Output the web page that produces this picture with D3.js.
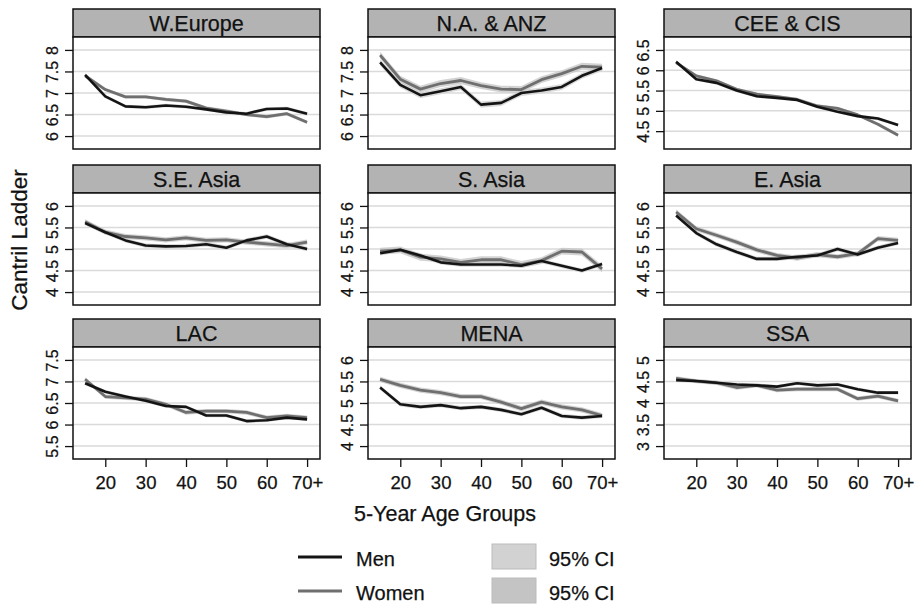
<!DOCTYPE html>
<html>
<head>
<meta charset="utf-8">
<script src="https://cdn.jsdelivr.net/npm/d3@7"></script>
<style>
  html, body { margin: 0; padding: 0; background: #fff; }
  svg { display: block; font-family: "Liberation Sans", Arial, Helvetica, sans-serif; }
  text { stroke: #111; stroke-width: 0.25px; }
</style>
</head>
<body>
<svg id="chart" width="923" height="606"></svg>
<script>
// Mean life evaluation (Cantril ladder) by 5-year age group, men vs women, per region
const regions = ["W.Europe", "N.A. & ANZ", "CEE & CIS",
                 "S.E. Asia", "S. Asia", "E. Asia",
                 "LAC", "MENA", "SSA"];
const ages = [15, 20, 25, 30, 35, 40, 45, 50, 55, 60, 65, 70];
const xTicks = [20, 30, 40, 50, 60, 70];
const xTickLabels = ["20", "30", "40", "50", "60", "70+"];

const menScores = [
  [7.42, 6.92, 6.69, 6.67, 6.71, 6.68, 6.62, 6.55, 6.52, 6.63, 6.64, 6.52],
  [7.71, 7.19, 6.95, 7.04, 7.14, 6.73, 6.77, 7.00, 7.06, 7.14, 7.40, 7.58],
  [6.21, 5.78, 5.69, 5.50, 5.36, 5.32, 5.27, 5.10, 4.98, 4.87, 4.81, 4.65],
  [5.60, 5.39, 5.20, 5.08, 5.06, 5.07, 5.11, 5.03, 5.20, 5.29, 5.11, 5.00],
  [4.90, 4.98, 4.85, 4.69, 4.64, 4.64, 4.64, 4.61, 4.72, 4.61, 4.50, 4.65],
  [5.78, 5.37, 5.11, 4.93, 4.77, 4.77, 4.82, 4.85, 5.00, 4.87, 5.03, 5.14],
  [6.96, 6.76, 6.65, 6.55, 6.43, 6.41, 6.21, 6.21, 6.08, 6.10, 6.16, 6.12],
  [5.36, 4.97, 4.91, 4.95, 4.88, 4.91, 4.84, 4.74, 4.89, 4.70, 4.66, 4.70],
  [4.53, 4.51, 4.47, 4.43, 4.41, 4.38, 4.46, 4.41, 4.43, 4.32, 4.24, 4.24]
];
const womenScores = [
  [7.40, 7.08, 6.91, 6.91, 6.85, 6.81, 6.65, 6.58, 6.50, 6.45, 6.52, 6.32],
  [7.88, 7.32, 7.09, 7.22, 7.29, 7.17, 7.09, 7.08, 7.31, 7.45, 7.62, 7.60],
  [6.19, 5.86, 5.74, 5.53, 5.41, 5.35, 5.28, 5.12, 5.06, 4.90, 4.67, 4.40],
  [5.63, 5.39, 5.29, 5.26, 5.21, 5.26, 5.20, 5.21, 5.16, 5.12, 5.08, 5.16],
  [4.95, 4.98, 4.81, 4.77, 4.69, 4.75, 4.75, 4.64, 4.73, 4.95, 4.93, 4.54],
  [5.86, 5.47, 5.32, 5.16, 4.98, 4.85, 4.79, 4.87, 4.82, 4.89, 5.24, 5.20],
  [7.05, 6.65, 6.62, 6.59, 6.47, 6.28, 6.31, 6.31, 6.28, 6.16, 6.20, 6.16],
  [5.55, 5.41, 5.30, 5.24, 5.15, 5.15, 5.02, 4.87, 5.02, 4.91, 4.84, 4.71],
  [4.57, 4.51, 4.47, 4.36, 4.41, 4.30, 4.32, 4.32, 4.32, 4.10, 4.16, 4.05]
];
// half-width of the 95% confidence band for each region
const menCI   = [0.04, 0.07, 0.04, 0.05, 0.05, 0.05, 0.04, 0.05, 0.04];
const womenCI = [0.04, 0.08, 0.04, 0.06, 0.08, 0.06, 0.05, 0.06, 0.05];

const yDomains = [
  [5.7, 8.3], [5.7, 8.3], [4.06, 6.82],
  [3.7, 6.3], [3.7, 6.3], [3.7, 6.3],
  [5.2, 7.8], [3.7, 6.3], [2.7, 5.3]
];
const yTickSets = [
  [6, 6.5, 7, 7.5, 8], [6, 6.5, 7, 7.5, 8], [4.5, 5, 5.5, 6, 6.5],
  [4, 4.5, 5, 5.5, 6], [4, 4.5, 5, 5.5, 6], [4, 4.5, 5, 5.5, 6],
  [5.5, 6, 6.5, 7, 7.5], [4, 4.5, 5, 5.5, 6], [3, 3.5, 4, 4.5, 5]
];

const svg = d3.select("#chart");
const colLeft = [73, 368, 664];
const rowTop = [9, 165, 319];
const panelW = 247, stripH = 28, plotH = 112;

const menColor = "#141414", womenColor = "#6f6f6f";
const menBand = "#d2d2d2", womenBand = "#c4c4c4";

const x = d3.scaleLinear().domain([12, 73.2]).range([0, panelW]);

regions.forEach((name, i) => {
  const col = i % 3, row = Math.floor(i / 3);
  const g = svg.append("g").attr("transform", `translate(${colLeft[col]},${rowTop[row]})`);
  const y = d3.scaleLinear().domain(yDomains[i]).range([stripH + plotH, stripH]);

  // strip header
  g.append("rect").attr("x", 0).attr("y", 0).attr("width", panelW).attr("height", stripH)
    .attr("fill", "#b3b3b3").attr("stroke", "#111").attr("stroke-width", 1.5);
  g.append("text").attr("x", panelW / 2).attr("y", stripH - 6)
    .attr("text-anchor", "middle").attr("font-size", 21.5).attr("fill", "#111").text(name);

  // plot area
  g.append("rect").attr("x", 0).attr("y", stripH).attr("width", panelW).attr("height", plotH)
    .attr("fill", "#fff");

  // gridlines
  g.append("g").selectAll("line").data(yTickSets[i]).join("line")
    .attr("x1", 0).attr("x2", panelW)
    .attr("y1", d => y(d)).attr("y2", d => y(d))
    .attr("stroke", "#dadada").attr("stroke-width", 1.5);

  // y axis
  const yAxis = g.append("g").call(d3.axisLeft(y).tickValues(yTickSets[i]).tickSize(8).tickFormat(d3.format("~g")));
  yAxis.select(".domain").remove();
  yAxis.selectAll(".tick line").attr("stroke", "#111").attr("stroke-width", 1.3);
  yAxis.selectAll(".tick text")
    .attr("x", null).attr("dy", null)
    .attr("transform", "translate(-15,0) rotate(-90)")
    .attr("text-anchor", "middle").attr("font-size", 16).attr("fill", "#111");

  // confidence bands
  const band = (vals, hw) => d3.area()
    .x((d, k) => x(ages[k]))
    .y0(d => y(d - hw)).y1(d => y(d + hw))(vals);
  g.append("path").attr("d", band(menScores[i], menCI[i]))
    .attr("fill", menBand).attr("fill-opacity", 0.85);
  g.append("path").attr("d", band(womenScores[i], womenCI[i]))
    .attr("fill", womenBand).attr("fill-opacity", 0.75);

  // lines
  const line = d3.line().x((d, k) => x(ages[k])).y(d => y(d));
  g.append("path").attr("d", line(womenScores[i])).attr("fill", "none")
    .attr("stroke", womenColor).attr("stroke-width", 2.8).attr("stroke-linejoin", "round");
  g.append("path").attr("d", line(menScores[i])).attr("fill", "none")
    .attr("stroke", menColor).attr("stroke-width", 2.6).attr("stroke-linejoin", "round");

  // plot frame
  g.append("rect").attr("x", 0).attr("y", stripH).attr("width", panelW).attr("height", plotH)
    .attr("fill", "none").attr("stroke", "#111").attr("stroke-width", 1.5);

  // x axis on the bottom row
  if (row === 2) {
    const xAxis = g.append("g").attr("transform", `translate(0,${stripH + plotH})`)
      .call(d3.axisBottom(x).tickValues(xTicks).tickSize(8)
        .tickFormat((d, k) => xTickLabels[k]));
    xAxis.select(".domain").remove();
    xAxis.selectAll(".tick line").attr("stroke", "#111").attr("stroke-width", 1.3);
    xAxis.selectAll(".tick text").attr("y", 30).attr("dy", null)
      .attr("font-size", 18.5).attr("fill", "#111");
  }
});

// axis titles
svg.append("text").attr("transform", "translate(27,240) rotate(-90)")
  .attr("text-anchor", "middle").attr("font-size", 22.5).attr("fill", "#111").text("Cantril Ladder");
svg.append("text").attr("x", 445).attr("y", 521)
  .attr("text-anchor", "middle").attr("font-size", 21.5).attr("fill", "#111").text("5-Year Age Groups");

// legend
const legendSeries = ["Men", "Women"];
const legendColors = [menColor, womenColor];
const legendBands = [menBand, womenBand];
const legend = svg.append("g");
legendSeries.forEach((s, k) => {
  const cy = 557 + k * 34;
  legend.append("line").attr("x1", 298).attr("x2", 342).attr("y1", cy).attr("y2", cy)
    .attr("stroke", legendColors[k]).attr("stroke-width", 3);
  legend.append("text").attr("x", 356).attr("y", cy + 8.5).attr("font-size", 20)
    .attr("fill", "#111").text(s);
  legend.append("rect").attr("x", 492).attr("y", cy - 13).attr("width", 44).attr("height", 25)
    .attr("fill", legendBands[k]).attr("stroke", "#bbb").attr("stroke-width", 1);
  legend.append("text").attr("x", 549).attr("y", cy + 8.5).attr("font-size", 20)
    .attr("fill", "#111").text("95% CI");
});
</script>
</body>
</html>
